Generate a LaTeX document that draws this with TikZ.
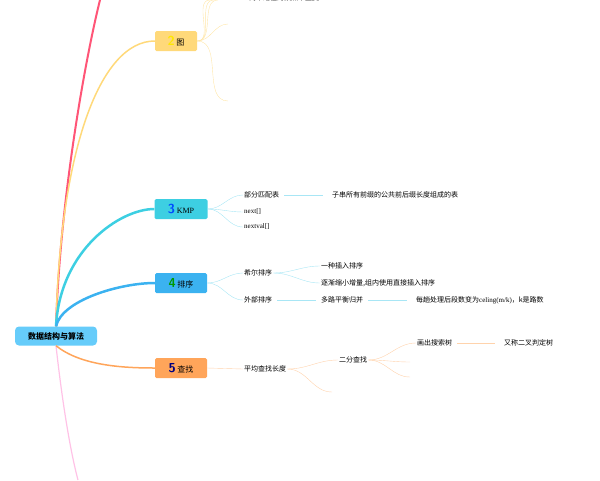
\documentclass[tikz,border=0pt]{standalone}
\usepackage{fontspec}
\setmainfont{Liberation Serif}
\newfontfamily\cjk{Noto Sans CJK SC}
\begin{document}
\begin{tikzpicture}[x=1pt,y=-1pt,
  lbl/.style={font=\cjk\fontsize{7}{8}\selectfont,anchor=west,inner sep=1pt},
  lat/.style={font=\fontsize{7}{8}\selectfont,anchor=west,inner sep=1pt},
  topic/.style={rounded corners=1.5pt,minimum height=20pt,inner sep=2pt,font=\cjk\fontsize{8}{9}\selectfont},
  ]
\useasboundingbox (0,0) rectangle (600,480);
\definecolor{cy}{HTML}{3DCFE2}\definecolor{bl}{HTML}{3BB2F0}
\definecolor{yl}{HTML}{FFD97A}\definecolor{og}{HTML}{FFA55A}
\definecolor{pk}{HTML}{FFC2E6}\definecolor{rd}{HTML}{FF5577}
\definecolor{rt}{HTML}{66CCFA}
\definecolor{ycl}{HTML}{FFE6A8}\definecolor{ccl}{HTML}{A8E6F5}\definecolor{ocl}{HTML}{FFD3AC}
% root
\node[rounded corners=4pt,fill=rt,minimum width=82pt,minimum height=19pt,font=\cjk\bfseries\fontsize{8}{9}\selectfont] (root) at (56,336) {数据结构与算法};
% topics
\node[topic,fill=yl,minimum width=42pt] (t2) at (176,41) {\textcolor{yellow!90!orange}{\sffamily\bfseries\fontsize{13}{13}\selectfont 2}\ 图};
\node[topic,fill=cy,minimum width=53pt] (t3) at (181,209) {\textcolor{blue!70!cyan}{\sffamily\bfseries\fontsize{13}{13}\selectfont 3}\ {\rmfamily KMP}};
\node[topic,fill=bl,minimum width=52pt] (t4) at (181,283) {\textcolor{green!60!black}{\sffamily\bfseries\fontsize{13}{13}\selectfont 4}\ 排序};
\node[topic,fill=og,minimum width=52pt] (t5) at (181,368) {\textcolor{blue!50!black}{\sffamily\bfseries\fontsize{13}{13}\selectfont 5}\ 查找};
\coordinate (rtop) at (100,0);\coordinate (rbot) at (78,480);
\draw[rd,line width=2pt] (root.north) .. controls (60,200) and (85,60) .. (rtop);
\draw[pk,line width=1.2pt] (root.south) .. controls (62,400) and (70,450) .. (rbot);
\draw[yl,line width=1.5pt] (root.north) .. controls (60,150) and (100,41) .. (t2.west);
\draw[cy,line width=2.5pt] (root.north) .. controls (60,250) and (120,209) .. (t3.west);
\draw[bl,line width=2.5pt] (root.north) .. controls (62,300) and (120,283) .. (t4.west);
\draw[og,line width=1.5pt] (root.south) .. controls (80,365) and (120,368) .. (t5.west);
% 图 children
\foreach \y/\x in {0/210,0/214,0/218,24/228,101/228}{\coordinate (g\y\x) at (\x,\y);
 \draw[ycl] (t2.east) to[out=0,in=180] (g\y\x);}
\node[lbl,anchor=west] (gtxt) at (248,-2) {简单路径的顶点不重复};
% KMP
\node[lbl] (k1) at (243,195) {部分匹配表};
\node[lbl] (k1a) at (331,195) {子串所有前缀的公共前后缀长度组成的表};
\node[lat] (k2) at (243,212) {next[]};
\node[lat] (k3) at (243,227) {nextval[]};
\foreach \n in {k1,k2,k3}\draw[ccl] (t3.east) to[out=0,in=180] (\n.west);
\draw[ccl] ([xshift=4pt]k1.east) -- ([xshift=-8pt]k1a.west);
% 排序
\node[lbl] (s1) at (243,273) {希尔排序};
\node[lbl] (s11) at (320,266) {一种插入排序};
\node[lbl] (s12) at (320,283) {逐渐缩小增量,组内使用直接插入排序};
\node[lbl] (s2) at (243,300) {外部排序};
\node[lbl] (s21) at (320,300) {多路平衡归并};
\node[lbl] (s211) at (415,300) {每趟处理后段数变为{\rmfamily celing(m/k)}，k是路数};
\foreach \n in {s1,s2}\draw[ccl] (t4.east) to[out=0,in=180] (\n.west);
\foreach \n in {s11,s12}\draw[ccl] (s1.east) to[out=0,in=180] (\n.west);
\draw[ccl] ([xshift=4pt]s2.east) -- ([xshift=-4pt]s21.west);
\draw[ccl] ([xshift=4pt]s21.east) -- ([xshift=-8pt]s211.west);
% 查找
\node[lbl] (f1) at (243,369) {平均查找长度};
\node[lbl] (f11) at (338,360) {二分查找};
\coordinate (f12) at (332,392);
\node[lbl] (f111) at (416,343) {画出搜索树};
\coordinate (f112) at (410,362);\coordinate (f113) at (410,377);
\node[lbl] (f1111) at (503,343) {又称二叉判定树};
\draw[ocl] (t5.east) -- (f1.west);
\draw[ocl] (f1.east) to[out=0,in=180] (f11.west);
\draw[ocl] (f1.east) to[out=0,in=180] (f12);
\foreach \n in {f111.west,f112,f113}\draw[ocl] (f11.east) to[out=0,in=180] (\n);
\draw[ocl] ([xshift=4pt]f111.east) -- ([xshift=-8pt]f1111.west);
\end{tikzpicture}
\end{document}
